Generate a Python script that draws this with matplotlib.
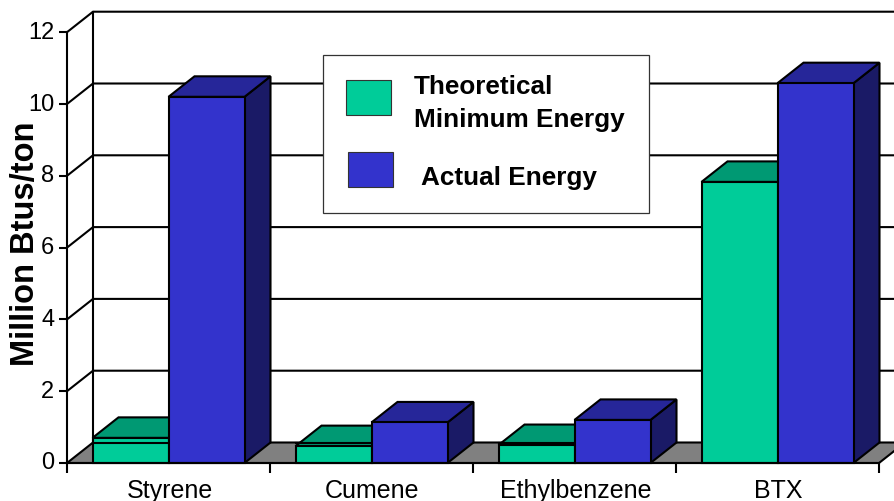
import matplotlib
matplotlib.use('Agg')
import matplotlib.pyplot as plt
from matplotlib.patches import Polygon, Rectangle
from matplotlib.transforms import ScaledTranslation

categories = ['Styrene', 'Cumene', 'Ethylbenzene', 'BTX']
theoretical = [0.7, 0.47, 0.5, 7.83]
actual = [10.2, 1.13, 1.2, 10.58]
y_ticks = [0, 2, 4, 6, 8, 10, 12]

W, H = 894, 502
GREEN, GREEN_TOP = '#00CC99', '#009973'
BLUE, BLUE_TOP, BLUE_SIDE = '#3333CC', '#262699', '#1A1A66'
GRAY = '#808080'

plt.rcParams['font.family'] = ['Liberation Sans', 'DejaVu Sans']

fig = plt.figure(figsize=(W / 100, H / 100), dpi=100)
# front plane of the fake 3d box: x 67-879 px, 35.9 px per unit, zero at y=464
ax = fig.add_axes([67 / W, 1 - 464 / H, 812 / W, 12 * 35.9 / H])
ax.set_xlim(0, 4)
ax.set_ylim(0, 12)
for s in ax.spines.values():
    s.set_visible(False)
ax.patch.set_visible(False)

# depth offset in data units
dx = 26 / 203
dy = 20.5 / 35.9
bar_w = 76 / 203
LW = 1.5


def line(xs, ys, z=2, lw=LW):
    ax.plot(xs, ys, color='black', lw=lw, zorder=z, clip_on=False, solid_capstyle='projecting')


def poly(pts, color, z):
    ax.add_patch(Polygon(pts, closed=True, facecolor=color, edgecolor='black', lw=LW,
                         zorder=z, clip_on=False, joinstyle='miter'))


def bar3d(x0, h, front, top, side, z):
    x1 = x0 + bar_w
    poly([(x1, 0), (x1 + dx, dy), (x1 + dx, h + dy), (x1, h)], side, z)
    poly([(x0, h), (x0 + dx, h + dy), (x1 + dx, h + dy), (x1, h)], top, z)
    poly([(x0, 0), (x1, 0), (x1, h), (x0, h)], front, z + 0.1)


# floor
poly([(0, 0), (dx, dy), (4 + dx, dy), (4, 0)], GRAY, 1)

# back wall and side wall, gridlines
for v in y_ticks[1:]:
    line([0, dx, 4 + dx], [v, v + dy, v + dy])
line([dx, dx], [dy, 12 + dy])
line([0, 0], [0, 12], z=6)
line([0, 4], [0, 0], z=8)

for i in range(len(categories)):
    c = i + 0.5
    bar3d(c - bar_w, theoretical[i], GREEN, GREEN_TOP, GREEN, 3 + i)
    # floor edge shows through the short bars
    if theoretical[i] < 1:
        line([c - bar_w, c], [dy, dy], z=3.5 + i)
    bar3d(c, actual[i], BLUE, BLUE_TOP, BLUE_SIDE, 3.6 + i)

ax.set_yticks(y_ticks)
ax.set_xticks([0, 1, 2, 3, 4])
ax.set_xticklabels([])
ax.tick_params(axis='y', length=6, width=1.5, labelsize=17, pad=3)
ax.tick_params(axis='x', length=7, width=1.5)
for lab in ax.get_yticklabels():
    lab.set_transform(lab.get_transform() + ScaledTranslation(0, 3 / 100, fig.dpi_scale_trans))
for i, name in enumerate(categories):
    ax.annotate(name, (i + 0.5, 0), xytext=(1, -27), textcoords='offset pixels',
                ha='center', va='center', fontsize=18)

fig.text(26 / W, 1 - 244 / H, 'Million Btus/ton', rotation=90, ha='center', va='center',
         fontsize=23.5, fontweight='bold')


# legend box, placed by hand in pixels
def fig_rect(x0, y0, x1, y1, color, lw, z):
    fig.add_artist(Rectangle((x0 / W, 1 - y1 / H), (x1 - x0) / W, (y1 - y0) / H, facecolor=color,
                             edgecolor='#333333', lw=lw, transform=fig.transFigure, zorder=z))


fig_rect(323, 56, 649, 214, 'white', 0.9, 10)
fig_rect(346, 81, 391, 116, GREEN, 0.8, 11)
fig_rect(348, 153, 393, 188, BLUE, 0.8, 11)
for x, y, t in [(414, 87, 'Theoretical'), (414, 120, 'Minimum Energy'), (421, 178, 'Actual Energy')]:
    fig.text(x / W, 1 - y / H, t, ha='left', va='center', fontsize=18.8, fontweight='bold', zorder=12)

fig.savefig('out.png', dpi=100)
